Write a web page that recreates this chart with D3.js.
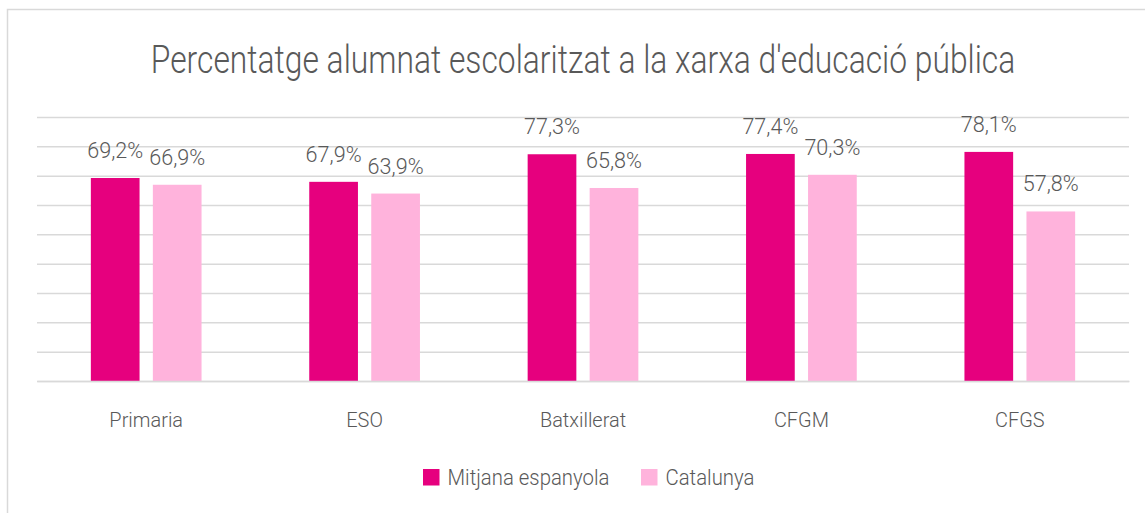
<!DOCTYPE html>
<html>
<head>
<meta charset="utf-8">
<script src="https://cdn.jsdelivr.net/npm/d3@7"></script>
<style>
  body { margin: 0; background: #fff; }
  text { font-family: Roboto, "Open Sans", sans-serif; fill: #595959; }
</style>
</head>
<body>
<div id="chart"></div>
<script>
// data
var categories = ["Primaria", "ESO", "Batxillerat", "CFGM", "CFGS"];
var seriesNames = ["Mitjana espanyola", "Catalunya"];
var mitjana = [69.2, 67.9, 77.3, 77.4, 78.1];
var catalunya = [66.9, 63.9, 65.8, 70.3, 57.8];
var gridTicks = [0, 10, 20, 30, 40, 50, 60, 70, 80, 90];
var colors = ["#e6007e", "#ffb3dc"];
var title = "Percentatge alumnat escolaritzat a la xarxa d'educació pública";

var W = 1145, H = 513;
var margin = {top: 117, right: 16, bottom: 132, left: 37},
    width = W - margin.left - margin.right,
    height = H - margin.top - margin.bottom;

var svg = d3.select("#chart").append("svg")
    .attr("width", W)
    .attr("height", H);

// outer frame (only left and top visible)
svg.append("rect")
    .attr("x", 7.5).attr("y", 9.5)
    .attr("width", W + 20).attr("height", H + 20)
    .attr("fill", "none")
    .attr("stroke", "#d9d9d9")
    .attr("stroke-width", 1.5);

// horizontal squeeze so a string of font size fs gets a given width
function squeeze(str, fs, weight, target) {
  var t = svg.append("text").attr("font-size", fs).attr("font-weight", weight).text(str);
  var w = t.node().getComputedTextLength();
  t.remove();
  return target / w;
}

var g = svg.append("g")
    .attr("transform", "translate(" + margin.left + "," + margin.top + ")");

var x0 = d3.scaleBand().domain(categories).range([0, width]).padding(0);
var y = d3.scaleLinear().domain([0, 90]).range([height, 0]);

// gridlines
g.append("g")
    .attr("class", "grid")
    .call(d3.axisLeft(y).tickValues(gridTicks).tickSize(-width).tickFormat(""))
    .call(function(s) {
      s.select(".domain").remove();
      s.selectAll("line").attr("stroke", "#d9d9d9").attr("stroke-width", 1.5);
    });

var barW = 48.7, gap = 13.3;
var groupW = barW * 2 + gap;
var x1 = d3.scaleBand().domain([0, 1]).range([0, groupW]).paddingInner(gap / (barW + gap));

var data = categories.map(function(c, i) {
  return {cat: c, vals: [mitjana[i], catalunya[i]]};
});

var labelFs = 22.5;
var labelSx = squeeze("69,2%", labelFs, 300, 56);

var groups = g.selectAll(".grp").data(data).enter().append("g")
    .attr("transform", function(d) {
      return "translate(" + (x0(d.cat) + (x0.bandwidth() - groupW) / 2) + ",0)";
    });

groups.selectAll("rect").data(function(d) { return d.vals; }).enter().append("rect")
    .attr("x", function(d, i) { return x1(i); })
    .attr("width", x1.bandwidth())
    .attr("y", function(d) { return y(d); })
    .attr("height", function(d) { return height - y(d); })
    .attr("fill", function(d, i) { return colors[i]; });

groups.selectAll(".lbl").data(function(d) { return d.vals; }).enter().append("text")
    .attr("class", "lbl")
    .attr("transform", function(d, i) {
      return "translate(" + (x1(i) + x1.bandwidth() / 2) + "," + (y(d) - 20) + ") scale(" + labelSx + ",1)";
    })
    .attr("text-anchor", "middle")
    .attr("font-size", labelFs)
    .attr("font-weight", 300)
    .text(function(d) { return d3.format(".1f")(d).replace(".", ",") + "%"; });

// category axis
var catFs = 21;
var catSx = squeeze("Primaria", catFs, 300, 73.7);
g.append("g")
    .attr("transform", "translate(0," + height + ")")
    .call(d3.axisBottom(x0).tickSize(0).tickPadding(0))
    .call(function(s) {
      s.select(".domain").attr("stroke", "#d9d9d9").attr("stroke-width", 1.5);
      s.selectAll("text")
        .attr("y", null)
        .attr("dy", null)
        .attr("transform", "translate(0,46) scale(" + catSx + ",1)")
        .attr("font-size", catFs)
        .attr("font-weight", 300)
        .attr("font-family", null)
        .attr("fill", "#595959");
    });

// title
var titleFs = 38;
var titleSx = squeeze(title, titleFs, 300, 865);
svg.append("text")
    .attr("transform", "translate(" + (margin.left + width / 2) + ",73) scale(" + titleSx + ",1)")
    .attr("text-anchor", "middle")
    .attr("font-size", titleFs)
    .attr("font-weight", 300)
    .text(title);

// legend
var legFs = 22;
var legSx = squeeze("Mitjana espanyola", legFs, 300, 162);
var legX = [423, 641];
var leg = svg.selectAll(".leg").data(seriesNames).enter().append("g")
    .attr("transform", function(d, i) { return "translate(" + legX[i] + ",469)"; });
leg.append("rect")
    .attr("width", 16.5).attr("height", 16.5)
    .attr("fill", function(d, i) { return colors[i]; });
leg.append("text")
    .attr("transform", "translate(24.5,16) scale(" + legSx + ",1)")
    .attr("font-size", legFs)
    .attr("font-weight", 300)
    .text(function(d) { return d; });
</script>
</body>
</html>
